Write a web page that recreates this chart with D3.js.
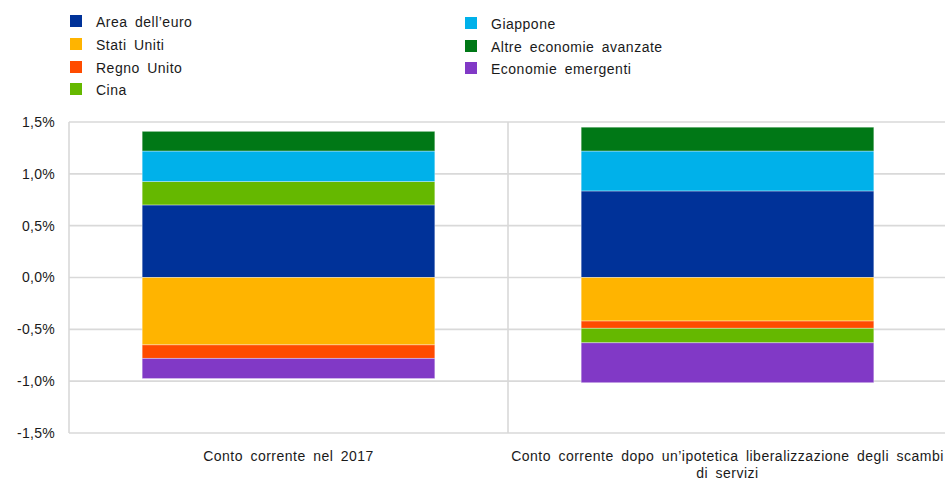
<!DOCTYPE html>
<html>
<head>
<meta charset="utf-8">
<script src="https://cdn.jsdelivr.net/npm/d3@7"></script>
<style>
  body { margin: 0; background: #fff; }
  text { font-family: "Liberation Sans", Arial, sans-serif; fill: #1a1a1a; }
</style>
</head>
<body>
<svg id="chart"></svg>
<script>
// categories (x axis)
const categories = [
    "Conto corrente nel 2017",
    "Conto corrente dopo un\u2019ipotetica liberalizzazione degli scambi di servizi"
]
// series, in legend order
const seriesNames = ["Area dell\u2019euro", "Stati Uniti", "Regno Unito", "Cina", "Giappone", "Altre economie avanzate", "Economie emergenti"]
const seriesColors = ["#003299", "#ffb400", "#ff4b00", "#65b800", "#00b1ea", "#007816", "#8139c6"]
// values per series, one per category (% of GDP)
const areaEuro = [0.70, 0.835]
const statiUniti = [-0.65, -0.42]
const regnoUnito = [-0.13, -0.07]
const cina = [0.225, -0.14]
const giappone = [0.295, 0.385]
const altreAvanzate = [0.19, 0.23]
const emergenti = [-0.195, -0.385]
const yTicks = [-1.5, -1.0, -0.5, 0, 0.5, 1.0, 1.5]

const seriesValues = [areaEuro, statiUniti, regnoUnito, cina, giappone, altreAvanzate, emergenti]

const width = 945, height = 481
const margin = {top: 122, right: -2, bottom: 48, left: 69}
const innerW = width - margin.left - margin.right
const innerH = height - margin.top - margin.bottom

const svg = d3.select('#chart').attr('width', width).attr('height', height)
const graph = svg.append('g').attr('transform', `translate(${margin.left}, ${margin.top})`)

const xScale = d3.scaleBand()
    .domain(categories)
    .range([0, innerW])
    .paddingInner(1 / 3)
    .paddingOuter(1 / 6)
const yScale = d3.scaleLinear().domain([-1.5, 1.5]).range([innerH, 0])

// horizontal grid lines
graph.append('g')
    .selectAll('line')
    .data(yTicks)
    .enter().append('line')
    .attr('x1', 0).attr('x2', innerW)
    .attr('y1', d => yScale(d)).attr('y2', d => yScale(d))
    .attr('stroke', '#d9d9d9').attr('stroke-width', 1.6)

// left axis line and category divider
const step = xScale.step()
graph.append('g')
    .selectAll('line')
    .data([0, step])
    .enter().append('line')
    .attr('x1', d => d).attr('x2', d => d)
    .attr('y1', 0).attr('y2', innerH)
    .attr('stroke', '#d9d9d9').attr('stroke-width', 1.6)

// y axis labels
const fmt = d => d3.format('.1f')(d).replace('.', ',').replace('\u2212', '-') + '%'
const yAxis = d3.axisLeft(yScale).tickValues(yTicks).tickSize(0).tickPadding(14).tickFormat(fmt)
graph.append('g').call(yAxis)
    .call(g => g.select('.domain').remove())
    .selectAll('text')
    .style('font-size', '14px')
    .style('letter-spacing', '0.3px')
    .attr('fill', '#1a1a1a')
    .attr('font-family', '"Liberation Sans", Arial, sans-serif')

// stacking positive and negative values separately
const rows = categories.map((c, i) => {
    const row = {category: c}
    seriesNames.forEach((s, j) => { row[s] = seriesValues[j][i] })
    return row
})
const stack = d3.stack().keys(seriesNames).offset(d3.stackOffsetDiverging)(rows)

graph.append('g')
    .selectAll('g')
    .data(stack)
    .enter().append('g')
    .attr('fill', (d, i) => seriesColors[i])
    .selectAll('rect')
    .data(d => d)
    .enter().append('rect')
    .attr('x', d => xScale(d.data.category))
    .attr('width', xScale.bandwidth())
    .attr('y', d => yScale(d[1]))
    .attr('height', d => yScale(d[0]) - yScale(d[1]))
    .attr('stroke', '#ffffff').attr('stroke-opacity', 0.45).attr('stroke-width', 0.8)

// category labels, wrapped to the band width
const xLabels = graph.append('g')
    .selectAll('text')
    .data(categories)
    .enter().append('text')
    .attr('text-anchor', 'middle')
    .attr('x', d => xScale(d) + xScale.bandwidth() / 2)
    .attr('y', innerH + 28)
    .style('font-size', '14px')
    .style('letter-spacing', '0.5px')
    .style('word-spacing', '3px')

xLabels.each(function (d) {
    const el = d3.select(this)
    const words = d.split(' ')
    const maxW = step
    let line = []
    let tspan = el.append('tspan').attr('x', el.attr('x')).attr('dy', 0)
    words.forEach(w => {
        line.push(w)
        tspan.text(line.join(' '))
        if (tspan.node().getComputedTextLength() > maxW && line.length > 1) {
            line.pop()
            tspan.text(line.join(' '))
            line = [w]
            tspan = el.append('tspan').attr('x', el.attr('x')).attr('dy', 17).text(w)
        }
    })
})

// legend, two columns
const legendPos = [[70, 15], [70, 38], [70, 61], [70, 83], [465, 17], [465, 40], [465, 62]]
const legend = svg.append('g')
    .selectAll('g')
    .data(seriesNames)
    .enter().append('g')
    .attr('transform', (d, i) => `translate(${legendPos[i][0]}, ${legendPos[i][1]})`)
legend.append('rect')
    .attr('width', 12).attr('height', 12)
    .attr('fill', (d, i) => seriesColors[i])
legend.append('text')
    .attr('x', 26).attr('y', 11.5)
    .style('font-size', '14px')
    .style('letter-spacing', '0.5px')
    .style('word-spacing', '3px')
    .text(d => d)
</script>
</body>
</html>
